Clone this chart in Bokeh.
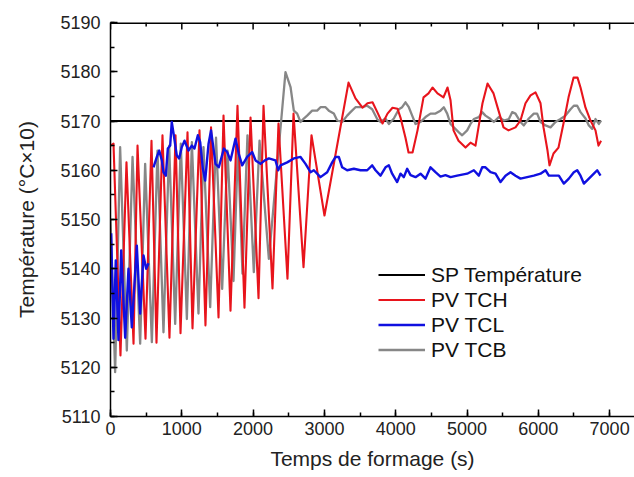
from bokeh.plotting import figure
from bokeh.models import Legend, LegendItem, Range1d, SingleIntervalTicker, Span
from bokeh.embed import file_html
from bokeh.resources import INLINE

NAN = float("nan")

# ---- data (time in s, temperature in °C x10) ----
sp_t = [0, 6880]
sp_v = [5170, 5170]

red_t = [0, 42, 140, 224, 323, 379, 491, 575, 645, 729, 827, 912, 982, 1080, 1150, 1248,
         1332, 1410, 1515, 1585, 1683, 1781, 1879, 1964, 2076, 2146, 2272, 2356, 2482, 2567,
         2707, 2819, 3001, 3338, 3436, 3534, 3604, 3675, 3745, 3815, 3885, 3955, 4025, 4067,
         4137, 4180, 4236, 4306, 4390, 4460, 4516, 4586, 4670, 4727, 4769, 4811, 4881, 4979,
         5049, 5119, 5161, 5217, 5288, 5330, 5372, 5442, 5512, 5582, 5680, 5750, 5820, 5891,
         5961, 6031, 6073, 6129, 6157, 6213, 6283, 6353, 6424, 6494, 6550, 6592, 6662, 6732,
         6802, 6844, 6880]
red_v = [5165.0, 5165.4, 5122.4, 5161.6, 5124.8, 5165.0, 5125.8, 5166.0, 5125.0, 5167.1,
         5126.0, 5167.1, 5126.9, 5167.7, 5127.9, 5168.1, 5128.5, 5168.7, 5130.1, 5171.1,
         5131.5, 5173.1, 5132.1, 5170.7, 5134.0, 5173.1, 5136.0, 5169.5, 5138.0, 5171.5,
         5140.3, 5167.1, 5150.8, 5177.8, 5174.6, 5172.7, 5173.6, 5173.8, 5171.7, 5169.5,
         5171.5, 5172.7, 5172.5, 5170.7, 5166.6, 5163.6, 5163.6, 5168.1, 5174.8, 5175.6,
         5176.8, 5175.6, 5174.8, 5176.8, 5174.2, 5168.1, 5166.0, 5164.6, 5165.6, 5165.0,
         5168.7, 5173.6, 5177.6, 5176.6, 5175.6, 5172.1, 5168.7, 5168.1, 5168.7, 5170.1,
         5173.6, 5175.2, 5175.8, 5173.6, 5168.7, 5164.0, 5161.0, 5163.4, 5164.6, 5169.5,
         5174.8, 5178.8, 5178.8, 5176.8, 5172.7, 5170.1, 5168.1, 5165.0, 5166.0]

blue_t = [10, 42, 74, 112, 150, 206, 252, 299, 369, 416, 463, 500, 533, 560,
          603, 650, 683, 720, 743, 776, 804, 837, 859, 888, 930, 963, 1000, 1038, 1094,
          1141, 1178, 1225, 1258, 1295, 1328, 1375, 1410, 1473, 1519, 1590, 1636, 1683,
          1753, 1800, 1847, 1917, 1987, 2034, 2104, 2165, 2221, 2314, 2352, 2384, 2478,
          2571, 2665, 2735, 2805, 2852, 2945, 3039, 3109, 3156, 3202, 3249, 3319, 3413,
          3506, 3600, 3670, 3717, 3787, 3857, 3904, 3950, 4020, 4067, 4114, 4161, 4208,
          4278, 4348, 4418, 4488, 4558, 4628, 4698, 4769, 4862, 5002, 5096, 5166, 5213,
          5259, 5330, 5400, 5470, 5540, 5610, 5680, 5750, 5844, 5937, 6031, 6101, 6148,
          6218, 6288, 6358, 6428, 6498, 6545, 6592, 6639, 6709, 6779, 6826, 6872]
blue_v = [5147.2, 5125.8, 5141.7, 5125.5, 5143.7, 5126.0, 5140.0, 5128.1, 5144.7, 5130.9,
          5142.7, 5140.0, 5141.1, NAN,
          5160.6, 5162.7, 5164.0, 5162.0, 5159.6, 5158.9, 5164.4, 5165.0, 5169.8, 5167.1,
          5163.0, 5162.4, 5164.7, 5166.0, 5164.0, 5165.0, 5164.4, 5167.1, 5165.7, 5160.3,
          5157.9, 5165.4, 5168.1, 5161.3, 5160.6, 5164.4, 5163.7, 5162.0, 5166.4, 5163.3,
          5161.0, 5162.7, 5163.7, 5162.0, 5161.3, 5162.0, 5162.4, 5162.0, 5160.0, 5161.0,
          5161.6, 5162.4, 5162.7, 5161.3, 5159.6, 5160.0, 5158.6, 5159.6, 5161.6, 5162.7,
          5162.7, 5160.6, 5160.0, 5160.3, 5160.0, 5160.0, 5161.0, 5160.0, 5158.9, 5160.6,
          5161.0, 5159.3, 5157.6, 5159.3, 5158.6, 5160.3, 5159.0, 5158.6, 5159.3, 5158.3,
          5160.6, 5159.6, 5158.7, 5159.0, 5158.6, 5158.9, 5159.3, 5160.0, 5158.9, 5160.6,
          5160.6, 5159.6, 5159.3, 5157.6, 5158.9, 5159.6, 5158.9, 5158.3, 5158.6, 5158.9,
          5159.3, 5160.0, 5158.9, 5158.9, 5158.9, 5157.3, 5158.3, 5159.6, 5160.0, 5158.9,
          5157.3, 5158.3, 5159.3, 5160.0, 5158.9]

gray_t = [0, 65, 135, 229, 309, 416, 486, 580, 659, 743, 823, 907, 986, 1071, 1141, 1234,
          1304, 1398, 1480, 1566, 1641, 1725, 1788, 1851, 1921, 2010, 2090, 2221, 2454,
          2525, 2571, 2618, 2665, 2711, 2758, 2828, 2898, 2945, 3016, 3062, 3132, 3179,
          3249, 3319, 3366, 3436, 3529, 3600, 3670, 3740, 3787, 3857, 3904, 3974, 4044,
          4090, 4137, 4184, 4231, 4278, 4348, 4418, 4488, 4558, 4628, 4675, 4722, 4769,
          4815, 4886, 4932, 5002, 5049, 5096, 5166, 5213, 5259, 5330, 5376, 5446, 5517,
          5587, 5633, 5680, 5750, 5797, 5867, 5937, 5984, 6031, 6101, 6171, 6241, 6311,
          6381, 6452, 6498, 6545, 6592, 6662, 6709, 6756, 6802, 6849, 6880]
gray_v = [5150.0, 5119.0, 5164.7, 5123.4, 5162.7, 5124.8, 5161.3, 5125.1, 5164.0, 5127.1,
          5165.0, 5128.8, 5165.4, 5129.8, 5165.7, 5130.9, 5164.7, 5132.2, 5166.6, 5135.9,
          5164.0, 5137.5, 5165.0, 5139.0, 5167.1, 5139.3, 5166.0, 5142.0, 5179.9,
          5176.9, 5172.1, 5171.5, 5169.8, 5170.5, 5171.1, 5172.1, 5172.1, 5172.8, 5172.8,
          5172.1, 5171.5, 5170.1, 5169.8, 5171.1, 5171.8, 5172.8, 5172.8, 5173.1, 5172.4,
          5170.4, 5169.8, 5170.5, 5169.4, 5170.5, 5172.4, 5172.8, 5173.8, 5172.8, 5171.1,
          5169.4, 5169.8, 5170.8, 5171.5, 5171.5, 5172.1, 5172.8, 5171.5, 5169.4, 5168.7,
          5167.7, 5167.1, 5168.1, 5169.4, 5170.4, 5170.8, 5171.8, 5171.1, 5170.4, 5169.8,
          5170.8, 5170.1, 5170.4, 5171.8, 5171.5, 5169.8, 5169.1, 5170.5, 5171.5, 5171.5,
          5169.8, 5169.1, 5168.7, 5169.8, 5170.4, 5171.1, 5172.4, 5173.1, 5173.1, 5171.8,
          5170.5, 5169.1, 5168.4, 5170.4, 5169.4, 5170.1]

labels = ["SP Température", "PV TCH", "PV TCL", "PV TCB"]

# tick positions of the mirrored top axis (major every 1000, minor every 500)
top_major = [0, 1000, 2000, 3000, 4000, 5000, 6000, 7000]
top_minor = [500, 1500, 2500, 3500, 4500, 5500, 6500]

FONT = "Liberation Sans"
X_END = 7349
Y0, Y1 = 5110, 5190

p = figure(width=634, height=477, output_backend="svg", toolbar_location=None,
           x_range=Range1d(0, X_END), y_range=Range1d(Y0, Y1),
           min_border_left=110, min_border_right=0, min_border_top=22, min_border_bottom=61,
           x_axis_label="Temps de formage (s)", y_axis_label="Température (°C×10)")
p.grid.visible = False
p.outline_line_color = None
p.background_fill_color = "white"
p.border_fill_color = "white"

r_sp = p.line(sp_t, sp_v, line_color="black", line_width=2)
r_gray = p.line(gray_t, gray_v, line_color="#878787", line_width=2.3, line_join="round")
r_red = p.line(red_t, red_v, line_color="#e8141c", line_width=2.1, line_join="round")
r_blue = p.line(blue_t, blue_v, line_color="#1010e0", line_width=2.4, line_join="round")

for ax in (p.xaxis[0], p.yaxis[0]):
    ax.axis_line_width = 1.5
    ax.axis_line_color = "black"
    ax.major_tick_line_width = 1.5
    ax.minor_tick_line_width = 1.5
    ax.major_tick_in = 7
    ax.major_tick_out = 0
    ax.minor_tick_in = 4
    ax.minor_tick_out = 0
    ax.major_label_text_font = FONT
    ax.major_label_text_font_size = "18px"
    ax.major_label_text_color = "#222222"
    ax.axis_label_text_font = FONT
    ax.axis_label_text_font_size = "21px"
    ax.axis_label_text_font_style = "normal"
    ax.axis_label_text_color = "#222222"

p.xaxis.ticker = SingleIntervalTicker(interval=1000, num_minor_ticks=2)
p.yaxis.ticker = SingleIntervalTicker(interval=10, num_minor_ticks=2)
p.xaxis.major_label_standoff = 5
p.xaxis.axis_label_standoff = 9
p.yaxis.major_label_standoff = 10
p.yaxis.axis_label_standoff = 19

# mirrored top frame line with inward ticks (no labels)
p.add_layout(Span(location=Y1, dimension="width", line_color="black", line_width=3))
px_per_unit = 394 / (Y1 - Y0)
p.segment(x0=top_major, x1=top_major, y0=[Y1] * len(top_major),
          y1=[Y1 - 7 / px_per_unit] * len(top_major), line_color="black", line_width=1.5)
p.segment(x0=top_minor, x1=top_minor, y0=[Y1] * len(top_minor),
          y1=[Y1 - 4 / px_per_unit] * len(top_minor), line_color="black", line_width=1.5)

legend = Legend(items=[LegendItem(label=labels[0], renderers=[r_sp]),
                       LegendItem(label=labels[1], renderers=[r_red]),
                       LegendItem(label=labels[2], renderers=[r_blue]),
                       LegendItem(label=labels[3], renderers=[r_gray])],
                location=(268, 54))
legend.border_line_color = None
legend.background_fill_alpha = 0
legend.padding = 0
legend.margin = 0
legend.spacing = 0
legend.glyph_width = 47
legend.glyph_height = 25
legend.label_height = 25
legend.label_standoff = 6
legend.label_text_font = FONT
legend.label_text_font_size = "21px"
legend.label_text_color = "#111111"
p.add_layout(legend)

open("out.html", "w").write(file_html(p, INLINE))
